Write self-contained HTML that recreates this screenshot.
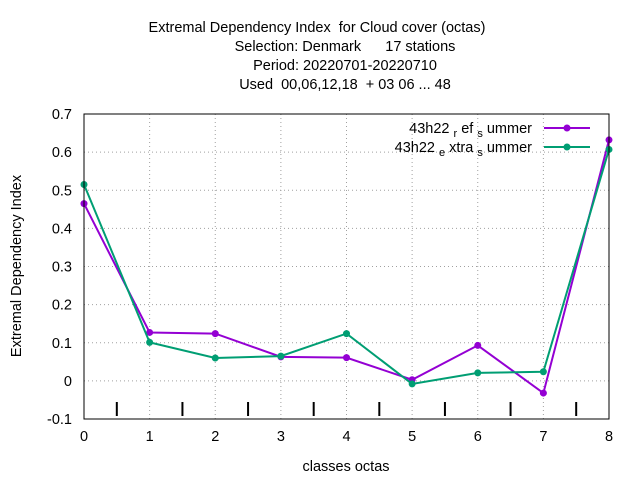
<!DOCTYPE html>
<html><head><meta charset="utf-8"><style>
body{margin:0;background:#fff;}
svg{display:block;font-family:"Liberation Sans",sans-serif;}
text{white-space:pre;}
</style></head><body>
<svg id="c" width="640" height="480">
<g font-size="14.5" text-anchor="middle" fill="#000">
<text x="317" y="32">Extremal Dependency Index  for Cloud cover (octas)</text>
<text x="345" y="51">Selection: Denmark      17 stations</text>
<text x="345" y="70">Period: 20220701-20220710</text>
<text x="345" y="89">Used  00,06,12,18  + 03 06 ... 48</text>
</g>
<text transform="translate(21,266) rotate(-90)" text-anchor="middle" font-size="14.5">Extremal Dependency Index</text>
<text x="346" y="471" text-anchor="middle" font-size="14.5">classes octas</text>
<g id="grid"></g><g id="ticks"></g><g id="series"></g>
<rect x="84" y="114" width="525" height="305" fill="none" stroke="#000" stroke-width="1"/>
<g font-size="14.5">
<text x="532" y="133" text-anchor="end">43h22 <tspan font-size="11" dy="4">r</tspan><tspan dy="-4"> ef </tspan><tspan font-size="11" dy="4">s</tspan><tspan dy="-4"> ummer</tspan></text>
<line x1="544" y1="128" x2="590" y2="128" stroke="#9400d3" stroke-width="2"/>
<circle cx="567" cy="128" r="3.5" fill="#9400d3"/>
<text x="532" y="152" text-anchor="end">43h22 <tspan font-size="11" dy="4">e</tspan><tspan dy="-4"> xtra </tspan><tspan font-size="11" dy="4">s</tspan><tspan dy="-4"> ummer</tspan></text>
<line x1="544" y1="147" x2="590" y2="147" stroke="#009e73" stroke-width="2"/>
<circle cx="567" cy="147" r="3.5" fill="#009e73"/>
</g>
</svg>
<script>
const categories=[0,1,2,3,4,5,6,7,8];
const refSummer=[0.465,0.127,0.124,0.063,0.061,0.003,0.093,-0.032,0.632];
const extraSummer=[0.515,0.101,0.060,0.065,0.124,-0.008,0.021,0.024,0.607];
const yTicks=[-0.1,0,0.1,0.2,0.3,0.4,0.5,0.6,0.7];
const xTicks=[0,1,2,3,4,5,6,7,8];
const NS="http://www.w3.org/2000/svg";
const X=v=>84+v*525/8, Y=v=>419-(v+0.1)*305/0.8;
function mk(t,a,p){const e=document.createElementNS(NS,t);for(const k in a)e.setAttribute(k,a[k]);p.appendChild(e);return e;}
const grid=document.getElementById('grid'),ticks=document.getElementById('ticks'),ser=document.getElementById('series');
yTicks.forEach(v=>{const y=Y(v);
 if(v>-0.1&&v<0.7){const l=mk('line',{x1:84,x2:609,y1:y,y2:y,stroke:'#a0a0a0','stroke-dasharray':'1,3'},grid);
 
 }
 const t=mk('text',{x:72,y:y+5,'text-anchor':'end','font-size':14.5},ticks);t.textContent=(Math.round(v*10)/10).toString();
 
 });
xTicks.forEach(v=>{const x=X(v);
 if(v>0&&v<8){const l=mk('line',{x1:x,x2:x,y1:114,y2:419,stroke:'#a0a0a0','stroke-dasharray':'1,3'},grid);
 
 }
 if(v<8){const m=mk('line',{x1:X(v+0.5),x2:X(v+0.5),y1:402,y2:416,stroke:'#000','stroke-width':2},ticks);
 
 }
 const t=mk('text',{x:x,y:441,'text-anchor':'middle','font-size':14.5},ticks);t.textContent=v;
 
 });
function draw(vals,col,name){
 const g=mk('g',{},ser);
 
 
 mk('polyline',{points:vals.map((v,i)=>X(categories[i])+','+Y(v)).join(' '),fill:'none',stroke:col,'stroke-width':2},g);
 vals.forEach((v,i)=>{const c=mk('circle',{cx:X(categories[i]),cy:Y(v),r:3.5,fill:col},g);
 
 });}
draw(refSummer,'#9400d3','series-ref-summer');
draw(extraSummer,'#009e73','series-extra-summer');
</script>
</body></html>
